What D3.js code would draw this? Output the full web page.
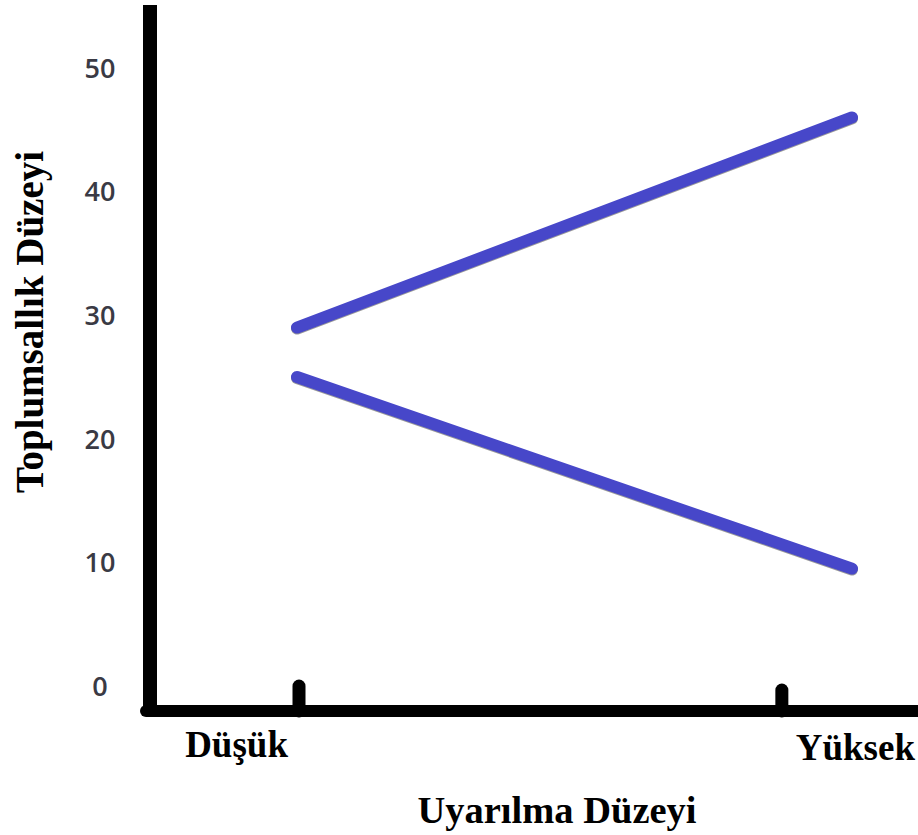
<!DOCTYPE html>
<html><head><meta charset="utf-8">
<script src="https://cdn.jsdelivr.net/npm/d3@7/dist/d3.min.js"></script>
<style>body{margin:0;background:#fff}svg{display:block}</style>
</head><body>
<script>
// Data
const categories = ["Düşük", "Yüksek"];
const xPositions = [0, 1];          // category positions along x
const xTickValues = [0, 0.87];      // tick mark positions (data units)
const upperSeries = [29, 46];
const lowerSeries = [25, 9.5];
const yTickValues = [0, 10, 20, 30, 40, 50];
const xTitle = "Uyarılma Düzeyi";
const yTitle = "Toplumsallık Düzeyi";

const W = 918, H = 835;
const svg = d3.select("body").append("svg").attr("width", W).attr("height", H);

const x = d3.scaleLinear().domain([0, 1]).range([297, 852]);
const y = d3.scaleLinear().domain([0, 50]).range([686, 68]);

const lineColor = "#4747c9";
const serif = "'Liberation Serif','Times New Roman',serif";

// tick labels (y)
svg.selectAll("text.ytick").data(yTickValues).enter().append("text")
  .attr("class", "ytick")
  .attr("x", 100).attr("y", d => y(d))
  .attr("dy", "0.36em")
  .attr("text-anchor", "middle")
  .style("font-family", "'Open Sans',sans-serif")
  .style("font-weight", 600)
  .style("font-size", "27px")
  .style("fill", "#3a3a44")
  .text(d => d);

// axes
const axisG = svg.append("g");
axisG.append("line").attr("x1", 150).attr("x2", 150).attr("y1", 5).attr("y2", 711)
  .attr("stroke", "#000").attr("stroke-width", 14).attr("stroke-linecap", "butt");
axisG.append("line").attr("x1", 146).attr("x2", 925).attr("y1", 711).attr("y2", 711)
  .attr("stroke", "#000").attr("stroke-width", 12).attr("stroke-linecap", "round");

// x tick marks
axisG.selectAll("line.xtick").data(xTickValues).enter().append("line")
  .attr("class", "xtick")
  .attr("x1", d => x(d) + 2).attr("x2", d => x(d) + 2)
  .attr("y1", (d, i) => i === 0 ? 686 : 690).attr("y2", 711)
  .attr("stroke", "#000").attr("stroke-width", 13).attr("stroke-linecap", "round");

// lines
const lineGen = d3.line().x((d, i) => x(xPositions[i])).y(d => y(d));
[upperSeries, lowerSeries].forEach(s => {
  svg.append("path").datum(s).attr("d", lineGen)
    .attr("transform", "translate(0,1)")
    .attr("fill", "none").attr("stroke", "#000").attr("stroke-width", 12)
    .attr("stroke-linecap", "round").attr("opacity", 0.4);
  svg.append("path").datum(s).attr("d", lineGen)
    .attr("fill", "none").attr("stroke", lineColor).attr("stroke-width", 12)
    .attr("stroke-linecap", "round");
});

// category labels
svg.append("text").attr("x", 288).attr("y", 757).attr("text-anchor", "end")
  .style("font-family", serif).style("font-weight", "bold").style("font-size", "37px")
  .text(categories[0]);
svg.append("text").attr("x", 915).attr("y", 760).attr("text-anchor", "end")
  .style("font-family", serif).style("font-weight", "bold").style("font-size", "37px")
  .text(categories[1]);

// axis titles
svg.append("text").attr("x", 557).attr("y", 823).attr("text-anchor", "middle")
  .style("font-family", serif).style("font-weight", "bold").style("font-size", "38.5px")
  .text(xTitle);
svg.append("text").attr("transform", "translate(43,322) rotate(-90)")
  .attr("text-anchor", "middle")
  .style("font-family", serif).style("font-weight", "bold").style("font-size", "39px")
  .text(yTitle);
</script>
</body></html>
